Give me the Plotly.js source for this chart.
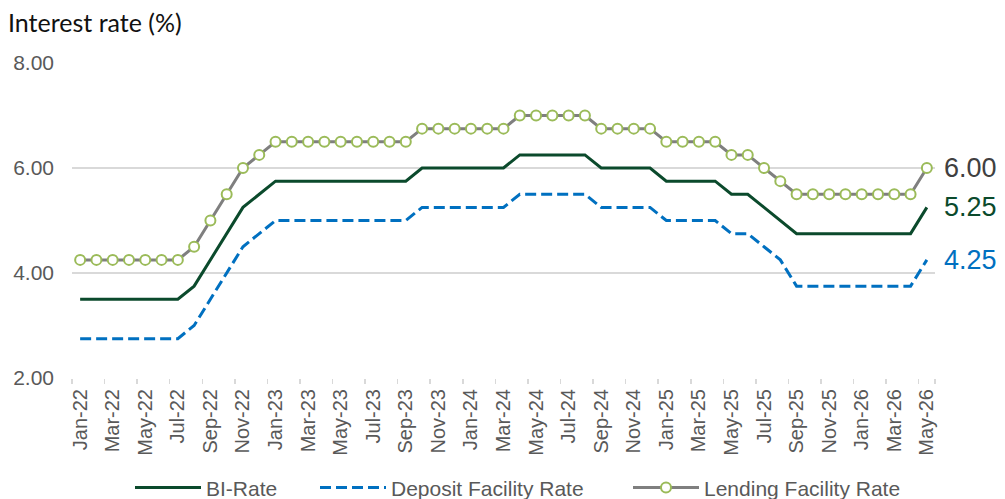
<!DOCTYPE html>
<html>
<head>
<meta charset="utf-8">
<script src="https://cdn.plot.ly/plotly-3.0.1.min.js"></script>
<style>html,body{margin:0;padding:0;background:#fff;}#chart{width:1005px;height:499px;}</style>
</head>
<body>
<div id="chart"></div>
<script>
const months = ["Jan-22","Feb-22","Mar-22","Apr-22","May-22","Jun-22","Jul-22","Aug-22","Sep-22","Oct-22","Nov-22","Dec-22",
"Jan-23","Feb-23","Mar-23","Apr-23","May-23","Jun-23","Jul-23","Aug-23","Sep-23","Oct-23","Nov-23","Dec-23",
"Jan-24","Feb-24","Mar-24","Apr-24","May-24","Jun-24","Jul-24","Aug-24","Sep-24","Oct-24","Nov-24","Dec-24",
"Jan-25","Feb-25","Mar-25","Apr-25","May-25","Jun-25","Jul-25","Aug-25","Sep-25","Oct-25","Nov-25","Dec-25",
"Jan-26","Feb-26","Mar-26","Apr-26","May-26"];

const biRate = [3.50,3.50,3.50,3.50,3.50,3.50,3.50,3.75,4.25,4.75,5.25,5.50,
5.75,5.75,5.75,5.75,5.75,5.75,5.75,5.75,5.75,6.00,6.00,6.00,
6.00,6.00,6.00,6.25,6.25,6.25,6.25,6.25,6.00,6.00,6.00,6.00,
5.75,5.75,5.75,5.75,5.50,5.50,5.25,5.00,4.75,4.75,4.75,4.75,
4.75,4.75,4.75,4.75,5.25];

const depositRate = [2.75,2.75,2.75,2.75,2.75,2.75,2.75,3.00,3.50,4.00,4.50,4.75,
5.00,5.00,5.00,5.00,5.00,5.00,5.00,5.00,5.00,5.25,5.25,5.25,
5.25,5.25,5.25,5.50,5.50,5.50,5.50,5.50,5.25,5.25,5.25,5.25,
5.00,5.00,5.00,5.00,4.75,4.75,4.50,4.25,3.75,3.75,3.75,3.75,
3.75,3.75,3.75,3.75,4.25];

const lendingRate = [4.25,4.25,4.25,4.25,4.25,4.25,4.25,4.50,5.00,5.50,6.00,6.25,
6.50,6.50,6.50,6.50,6.50,6.50,6.50,6.50,6.50,6.75,6.75,6.75,
6.75,6.75,6.75,7.00,7.00,7.00,7.00,7.00,6.75,6.75,6.75,6.75,
6.50,6.50,6.50,6.50,6.25,6.25,6.00,5.75,5.50,5.50,5.50,5.50,
5.50,5.50,5.50,5.50,6.00];

const yTicks = [2, 4, 6, 8];

const idx = months.map((m, i) => i);
const labelIdx = idx.filter(i => i % 2 === 0);
const labelText = labelIdx.map(i => months[i]);
const boundaryIdx = labelIdx.map(i => i - 0.5).concat([months.length - 0.5]);

const cGreen = "#0B4A2C", cBlue = "#0070C0", cGray = "#7F7F7F", cMarker = "#9BBB59";
const arial = "Liberation Sans, Arial, sans-serif";

const traces = [
  {x: idx, y: biRate, type: "scatter", mode: "lines", name: "BI-Rate", legend: "legend",
   line: {color: cGreen, width: 3}},
  {x: idx, y: depositRate, type: "scatter", mode: "lines", name: "Deposit Facility Rate", legend: "legend2",
   line: {color: cBlue, width: 3, dash: "11px,5px"}},
  {x: idx, y: lendingRate, type: "scatter", mode: "lines+markers", name: "Lending Facility Rate", legend: "legend3",
   line: {color: cGray, width: 3},
   marker: {symbol: "circle", size: 10, color: "#ffffff", line: {color: cMarker, width: 2}}},
  {x: [idx[0]], y: [null], xaxis: "x2", type: "scatter", mode: "lines", showlegend: false, hoverinfo: "skip"}
];

const last = months.length - 1;
const annFont = {family: arial, size: 27};
const annotations = [
  {x: idx[last], y: lendingRate[last], text: lendingRate[last].toFixed(2), color: "#404040"},
  {x: idx[last], y: biRate[last], text: biRate[last].toFixed(2), color: cGreen},
  {x: idx[last], y: depositRate[last], text: depositRate[last].toFixed(2), color: cBlue}
].map(a => ({x: a.x, y: a.y, xref: "x", yref: "y", text: a.text, showarrow: false,
  xanchor: "left", yanchor: "middle", xshift: 15, font: Object.assign({color: a.color}, annFont)}));

annotations.push({xref: "paper", yref: "paper", x: -66/863, y: 1, yshift: 41,
  xanchor: "left", yanchor: "middle", showarrow: false, text: "Interest rate (%)",
  font: {family: "Lato, Carlito, sans-serif", size: 25, color: "#111111"}});

const legendBase = {orientation: "h", xanchor: "left", y: -0.349, yanchor: "middle",
  font: {family: arial, size: 21, color: "#595959"}, itemwidth: 66, bgcolor: "rgba(0,0,0,0)"};

const layout = {
  width: 1005, height: 499,
  margin: {l: 72, r: 70, t: 63, b: 121, autoexpand: false},
  paper_bgcolor: "#ffffff", plot_bgcolor: "#ffffff",
  showlegend: true,
  legend: Object.assign({}, legendBase, {x: (130 - 72) / 863}),
  legend2: Object.assign({}, legendBase, {x: (315 - 72) / 863}),
  legend3: Object.assign({}, legendBase, {x: (628 - 72) / 863}),
  xaxis: {range: [-0.5, months.length - 0.5], tickmode: "array", tickvals: labelIdx, ticktext: labelText,
    tickangle: -90, ticks: "", showgrid: false, zeroline: false, showline: false, ticklabelstandoff: 6,
    tickfont: {family: arial, size: 20, color: "#595959"}},
  xaxis2: {overlaying: "x", side: "bottom", anchor: "y", range: [-0.5, months.length - 0.5],
    tickmode: "array", tickvals: boundaryIdx, ticktext: boundaryIdx.map(() => ""),
    ticks: "outside", ticklen: 5, tickwidth: 1.5, tickcolor: "#D9D9D9", showgrid: false, zeroline: false, showline: false},
  yaxis: {range: [2, 8], tickmode: "array", tickvals: yTicks, ticktext: yTicks.map(v => v.toFixed(2)),
    showgrid: true, gridcolor: "#D9D9D9", gridwidth: 1.5, zeroline: false, showline: false,
    ticks: "", ticklabelstandoff: 17,
    tickfont: {family: arial, size: 21, color: "#595959"}},
  annotations: annotations,
  font: {family: arial}
};

Plotly.newPlot("chart", traces, layout, {displayModeBar: false, staticPlot: true});
</script>
</body>
</html>
